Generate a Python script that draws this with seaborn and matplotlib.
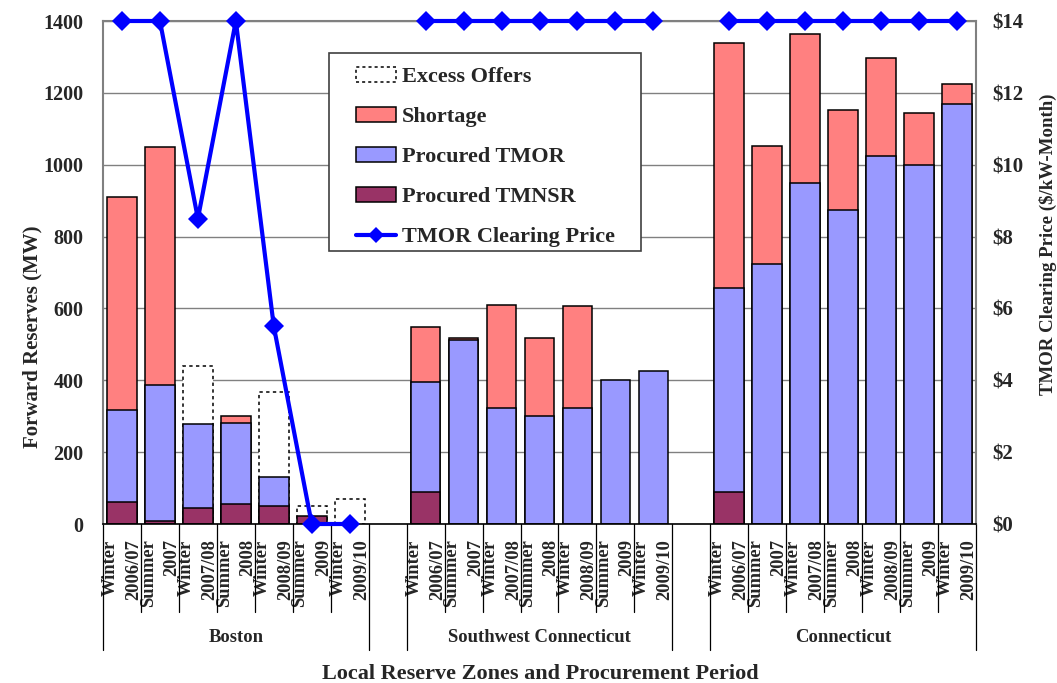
import matplotlib
matplotlib.use("Agg")
import matplotlib.pyplot as plt
from matplotlib.patches import Patch, Rectangle
from matplotlib.lines import Line2D
import pandas as pd
import seaborn as sns

# ---- data -------------------------------------------------------------
zones = ["Boston", "Southwest Connecticut", "Connecticut"]
periods = ["Winter\n2006/07", "Summer\n2007", "Winter\n2007/08", "Summer\n2008",
           "Winter\n2008/09", "Summer\n2009", "Winter\n2009/10"]

# segment values in MW (stacked bottom to top: TMNSR, TMOR, shortage, excess offers)
boston_tmnsr = [60, 8, 44, 57, 50, 23, 0]
boston_tmor = [256, 378, 234, 223, 82, 0, 0]
boston_shortage = [594, 664, 0, 20, 0, 0, 0]
boston_excess = [0, 0, 162, 0, 236, 27, 69]
boston_price = [14, 14, 8.5, 14, 5.5, 0, 0]

swct_tmnsr = [88, 0, 0, 0, 0, 0, 0]
swct_tmor = [306, 513, 323, 300, 322, 400, 425]
swct_shortage = [155, 5, 286, 218, 286, 0, 0]
swct_excess = [0, 0, 0, 0, 0, 0, 0]
swct_price = [14, 14, 14, 14, 14, 14, 14]

ct_tmnsr = [88, 0, 0, 0, 0, 0, 0]
ct_tmor = [570, 724, 950, 873, 1025, 998, 1170]
ct_shortage = [680, 329, 414, 280, 273, 147, 55]
ct_excess = [0, 0, 0, 0, 0, 0, 0]
ct_price = [14, 14, 14, 14, 14, 14, 14]

yticks = [0, 200, 400, 600, 800, 1000, 1200, 1400]
price_ticks = [0, 2, 4, 6, 8, 10, 12, 14]

COL_EXCESS = "white"
COL_SHORT = "#FF8080"
COL_TMOR = "#9999FF"
COL_TMNSR = "#993366"
COL_PRICE = "#0000FF"

# ---- tidy table -------------------------------------------------------
series = {
    "Boston": (boston_tmnsr, boston_tmor, boston_shortage, boston_excess, boston_price),
    "Southwest Connecticut": (swct_tmnsr, swct_tmor, swct_shortage, swct_excess, swct_price),
    "Connecticut": (ct_tmnsr, ct_tmor, ct_shortage, ct_excess, ct_price),
}
rows = []
for zi, zone in enumerate(zones):
    tn, tm, sh, ex, pr = series[zone]
    for pi, period in enumerate(periods):
        rows.append(dict(zone=zone, period=period, slot=zi * 8 + pi,
                         tmnsr=tn[pi], tmor=tm[pi], shortage=sh[pi],
                         excess=ex[pi], price=pr[pi]))
df = pd.DataFrame(rows)
df["top_tmor"] = df["tmnsr"] + df["tmor"]
df["top_short"] = df["top_tmor"] + df["shortage"]
df["top_excess"] = df["top_short"] + df["excess"]

# ---- style ------------------------------------------------------------
sns.set_style("white")
plt.rcParams["font.family"] = ["Liberation Serif", "DejaVu Serif"]
plt.rcParams["font.weight"] = "bold"
plt.rcParams["axes.labelweight"] = "bold"

W, H = 1057, 683
fig = plt.figure(figsize=(W / 100, H / 100), dpi=100)
ax = fig.add_axes([103 / W, 1 - 524 / H, 873 / W, 503 / H])
ax2 = ax.twinx()

bar_kw = dict(native_scale=True, width=0.78, saturation=1, edgecolor="black",
              linewidth=1.1, errorbar=None, ax=ax)

# layers drawn back to front as cumulative heights
sns.barplot(data=df[df["excess"] > 0], x="slot", y="top_excess", color=COL_EXCESS,
            linestyle=(0, (2.2, 2.2)), **bar_kw)
sns.barplot(data=df[df["shortage"] > 0], x="slot", y="top_short", color=COL_SHORT, **bar_kw)
sns.barplot(data=df[df["tmor"] > 0], x="slot", y="top_tmor", color=COL_TMOR, **bar_kw)
sns.barplot(data=df[df["tmnsr"] > 0], x="slot", y="tmnsr", color=COL_TMNSR, **bar_kw)

# clearing price, one line per zone
for zone in zones:
    sns.lineplot(data=df[df["zone"] == zone], x="slot", y="price", ax=ax2,
                 color=COL_PRICE, linewidth=3, marker="D", markersize=10,
                 markeredgewidth=0, clip_on=False, estimator=None, sort=False,
                 legend=False, zorder=5)

# ---- axes -------------------------------------------------------------
ax.set_xlim(-0.5, 22.5)
ax.set_ylim(0, 1400)
ax2.set_ylim(0, 14)
ax.set_yticks(yticks)
ax.set_yticklabels([str(v) for v in yticks])
ax2.set_yticks(price_ticks)
ax2.set_yticklabels([f"${v}" for v in price_ticks])
ax.tick_params(axis="y", length=0, pad=14, labelsize=14.5)
ax2.tick_params(axis="y", length=0, pad=12, labelsize=15)
ax.set_xlabel("")
ax.set_ylabel("")
ax2.set_xlabel("")
ax2.set_ylabel("")

ax.set_axisbelow(True)
ax.yaxis.grid(True, color="#808080", linewidth=1.0)
ax.xaxis.grid(False)
for side in ["left", "top", "right"]:
    ax.spines[side].set_color("#808080")
    ax.spines[side].set_linewidth(1.5)
ax.spines["bottom"].set_color("black")
ax.spines["bottom"].set_linewidth(1.2)
for sp in ax2.spines.values():
    sp.set_visible(False)

# category tick labels
slots = list(df["slot"])
ax.set_xticks(slots)
ax.set_xticklabels(list(df["period"]), rotation=90, fontsize=13.3)
for lbl in ax.get_xticklabels():
    lbl.set_multialignment("right")
    lbl.set_linespacing(1.5)
ax.tick_params(axis="x", length=0, pad=11)

# category separators and zone labels below the axis
trans = ax.get_xaxis_transform()
y_short = -(612 - 524) / 503
y_long = -(650 - 524) / 503
y_zone = -(638 - 524) / 503
for zi, zone in enumerate(zones):
    left = zi * 8 - 0.5
    right = zi * 8 + 6.5
    for x in (left, right):
        ax.plot([x, x], [0, y_long], transform=trans, clip_on=False,
                color="black", linewidth=0.9)
    for k in range(1, 7):
        ax.plot([left + k, left + k], [0, y_short], transform=trans,
                clip_on=False, color="black", linewidth=0.9)
    ax.text((left + right) / 2, y_zone, zone, transform=trans, ha="center",
            va="center", fontsize=13.4, fontweight="bold")

fig.text(540 / W, 1 - 674 / H, "Local Reserve Zones and Procurement Period",
         ha="center", va="center", fontsize=16, fontweight="bold")
fig.text(32 / W, 1 - 337 / H, "Forward Reserves (MW)", rotation=90,
         ha="center", va="center", fontsize=15, fontweight="bold")
fig.text(1048 / W, 1 - 244 / H, "TMOR Clearing Price ($/kW-Month)", rotation=90,
         ha="center", va="center", fontsize=13.6, fontweight="bold")

# ---- legend -----------------------------------------------------------
fig.add_artist(Rectangle((329 / W, 1 - 251 / H), 312 / W, 198 / H,
                         transform=fig.transFigure, facecolor="white",
                         edgecolor="#404040", linewidth=1.2, zorder=4))
handles = [
    Patch(facecolor=COL_EXCESS, edgecolor="black", linestyle=(0, (2, 2)),
          linewidth=1.1, label="Excess Offers"),
    Patch(facecolor=COL_SHORT, edgecolor="black", linewidth=1.1, label="Shortage"),
    Patch(facecolor=COL_TMOR, edgecolor="black", linewidth=1.1, label="Procured TMOR"),
    Patch(facecolor=COL_TMNSR, edgecolor="black", linewidth=1.1, label="Procured TMNSR"),
    Line2D([], [], color=COL_PRICE, linewidth=3, marker="D", markersize=8,
           markeredgewidth=0, label="TMOR Clearing Price"),
]
leg = fig.legend(handles=handles, loc="upper left",
                 bbox_to_anchor=(356 / W, 1 - 67 / H), frameon=False,
                 fontsize=16, handlelength=1.8, handleheight=0.68,
                 handletextpad=0.25, labelspacing=0.88, borderpad=0,
                 borderaxespad=0)
leg.set_zorder(6)

fig.savefig("out.png", dpi=100)
